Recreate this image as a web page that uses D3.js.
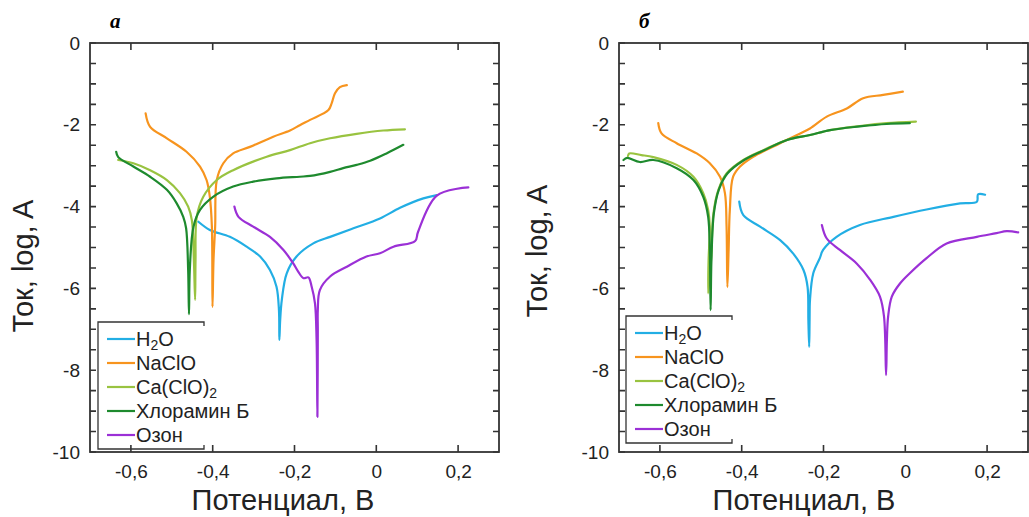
<!DOCTYPE html>
<html lang="ru">
<head>
<meta charset="UTF-8">
<title>Поляризационные кривые</title>
<script src="https://d3js.org/d3.v7.min.js"></script>
<style>
  body { margin: 0; background: #fff; }
  svg { display: block; font-family: "Liberation Sans", Arial, sans-serif; }
  .axis text { font-size: 19px; fill: #222; font-family: "Liberation Sans", Arial, sans-serif; }
  .title { font-size: 29px; fill: #222; }
  .legend text { font-size: 20px; fill: #222; }
  .letter { font-family: "Liberation Serif", "DejaVu Serif", serif; font-weight: bold; font-style: italic; font-size: 21px; }
</style>
</head>
<body>
<svg id="chart" width="1029" height="517"></svg>
<script>
// series names and colours
const seriesNames = ["H2O", "NaClO", "Ca(ClO)2", "Хлорамин Б", "Озон"];
const seriesColors = ["#22aee4", "#f7941e", "#99c340", "#1e8a2e", "#9b30d6"];

// ticks
const xTicks = [-0.6, -0.4, -0.2, 0, 0.2];
const yTicks = [0, -2, -4, -6, -8, -10];
const yMinor = d3.range(-10, 0.001, 0.5);

// panel а : [potential, V ; log current]
const aH2O = [[-0.435,-4.37],[-0.407,-4.57],[-0.358,-4.74],[-0.317,-4.98],[-0.284,-5.22],[-0.260,-5.55],[-0.244,-5.96],[-0.238,-6.53],[-0.237,-7.26],
  [-0.235,-6.77],[-0.231,-6.28],[-0.219,-5.63],[-0.195,-5.22],[-0.154,-4.90],[-0.113,-4.74],[-0.056,-4.53],[0.009,-4.29],[0.058,-4.03],[0.115,-3.80],[0.148,-3.72]];
const aNaClO = [[-0.564,-1.72],[-0.553,-2.05],[-0.512,-2.33],[-0.464,-2.66],[-0.431,-3.02],[-0.415,-3.35],[-0.407,-3.76],[-0.402,-4.49],[-0.4005,-6.45],
  [-0.398,-5.30],[-0.394,-4.49],[-0.390,-3.35],[-0.374,-2.94],[-0.350,-2.70],[-0.309,-2.54],[-0.252,-2.29],[-0.211,-2.14],[-0.187,-2.01],[-0.162,-1.88],
  [-0.117,-1.64],[-0.109,-1.47],[-0.101,-1.23],[-0.089,-1.08],[-0.072,-1.03]];
const aCaClO2 = [[-0.631,-2.86],[-0.594,-2.94],[-0.553,-3.11],[-0.512,-3.35],[-0.480,-3.67],[-0.460,-4.00],[-0.451,-4.33],[-0.446,-5.31],[-0.443,-6.28],
  [-0.442,-5.31],[-0.439,-4.25],[-0.423,-3.76],[-0.390,-3.35],[-0.350,-3.11],[-0.268,-2.78],[-0.211,-2.62],[-0.162,-2.45],[-0.113,-2.33],[-0.048,-2.22],
  [0.017,-2.14],[0.070,-2.11]];
const aChloramine = [[-0.636,-2.66],[-0.631,-2.79],[-0.594,-3.02],[-0.553,-3.27],[-0.512,-3.59],[-0.488,-3.92],[-0.472,-4.25],[-0.465,-4.53],[-0.460,-5.55],[-0.458,-6.63],
  [-0.456,-5.55],[-0.447,-4.49],[-0.431,-4.08],[-0.399,-3.76],[-0.350,-3.51],[-0.301,-3.39],[-0.244,-3.31],[-0.187,-3.27],[-0.162,-3.25],[-0.113,-3.15],
  [-0.081,-3.06],[-0.048,-2.98],[-0.015,-2.88],[0.025,-2.70],[0.066,-2.49]];
const aOzone = [[-0.347,-4.00],[-0.337,-4.25],[-0.301,-4.49],[-0.260,-4.74],[-0.227,-5.06],[-0.203,-5.39],[-0.191,-5.59],[-0.178,-5.75],[-0.166,-5.73],
  [-0.158,-5.96],[-0.150,-6.36],[-0.146,-7.26],[-0.144,-9.14],[-0.143,-7.02],[-0.143,-6.53],[-0.138,-6.04],[-0.113,-5.71],[-0.072,-5.47],[-0.024,-5.22],
  [0.009,-5.14],[0.042,-4.98],[0.095,-4.84],[0.102,-4.62],[0.148,-3.73],[0.225,-3.53]];

// panel б
const bH2O = [[-0.406,-3.88],[-0.396,-4.21],[-0.355,-4.49],[-0.306,-4.82],[-0.274,-5.15],[-0.249,-5.55],[-0.239,-5.96],[-0.237,-6.77],[-0.235,-7.43],
  [-0.234,-6.77],[-0.233,-6.28],[-0.225,-5.63],[-0.209,-5.26],[-0.201,-5.06],[-0.168,-4.74],[-0.111,-4.45],[-0.029,-4.25],[0.052,-4.07],[0.134,-3.92],
  [0.175,-3.88],[0.178,-3.70],[0.195,-3.71]];
const bNaClO = [[-0.604,-1.96],[-0.596,-2.21],[-0.559,-2.45],[-0.510,-2.70],[-0.478,-2.94],[-0.453,-3.27],[-0.441,-3.67],[-0.437,-4.49],[-0.435,-5.97],
  [-0.432,-5.06],[-0.429,-4.08],[-0.421,-3.27],[-0.404,-3.02],[-0.372,-2.78],[-0.306,-2.45],[-0.257,-2.21],[-0.233,-2.09],[-0.192,-1.80],[-0.143,-1.60],
  [-0.103,-1.35],[-0.054,-1.27],[-0.006,-1.19]];
const bCaClO2 = [[-0.678,-2.76],[-0.675,-2.70],[-0.645,-2.74],[-0.616,-2.79],[-0.559,-2.98],[-0.518,-3.27],[-0.494,-3.67],[-0.482,-4.08],[-0.478,-4.49],[-0.481,-5.31],[-0.482,-6.12],
  [-0.475,-5.31],[-0.469,-4.16],[-0.457,-3.59],[-0.437,-3.19],[-0.396,-2.86],[-0.347,-2.62],[-0.290,-2.37],[-0.233,-2.25],[-0.184,-2.13],[-0.111,-2.03],
  [-0.046,-1.96],[0.026,-1.92]];
const bChloramine = [[-0.689,-2.86],[-0.680,-2.81],[-0.649,-2.91],[-0.616,-2.86],[-0.559,-3.06],[-0.518,-3.35],[-0.494,-3.76],[-0.482,-4.25],[-0.478,-5.06],[-0.476,-6.53],
  [-0.474,-5.31],[-0.468,-4.16],[-0.456,-3.59],[-0.435,-3.19],[-0.394,-2.86],[-0.345,-2.62],[-0.289,-2.37],[-0.233,-2.25],[-0.184,-2.13],[-0.111,-2.04],
  [-0.046,-1.98],[0.011,-1.96]];
const bOzone = [[-0.204,-4.45],[-0.192,-4.78],[-0.160,-5.06],[-0.119,-5.39],[-0.086,-5.79],[-0.062,-6.20],[-0.052,-6.69],[-0.047,-8.12],
  [-0.045,-7.26],[-0.042,-6.69],[-0.033,-6.20],[-0.013,-5.88],[0.011,-5.63],[0.052,-5.26],[0.101,-4.90],[0.175,-4.74],[0.223,-4.65],[0.248,-4.60],[0.276,-4.63]];

const panels = [
  { letter: "а", left: 90, legendX: 98, legendY: 322, xTitle: 283, yTitleX: 33, yTitleY: 266,
    data: [aH2O, aNaClO, aCaClO2, aChloramine, aOzone] },
  { letter: "б", left: 619, legendX: 626, legendY: 316, xTitle: 804, yTitleX: 547, yTitleY: 251,
    data: [bH2O, bNaClO, bCaClO2, bChloramine, bOzone] }
];

const svg = d3.select("#chart");
svg.append("rect").attr("width", 1029).attr("height", 517).attr("fill", "#fff");

const plotTop = 43, plotSize = 409;
const axisColor = "#333333";
const fmt = d => d === 0 ? "0" : d.toFixed(1).replace(".", ",");

const frames = svg.append("g").attr("class", "frames");

panels.forEach(p => {
  const x = d3.scaleLinear().domain([-0.7, 0.3]).range([p.left, p.left + plotSize]);
  const y = d3.scaleLinear().domain([-10, 0]).range([plotTop + plotSize, plotTop]);
  const g = svg.append("g");

  // curves
  const line = d3.line().x(d => x(d[0])).y(d => y(d[1])).curve(d3.curveCatmullRom.alpha(0.5));
  p.data.forEach((s, i) => {
    g.append("path").attr("d", line(s))
      .attr("fill", "none").attr("stroke", seriesColors[i]).attr("stroke-width", 2.2)
      .attr("stroke-linejoin", "round").attr("stroke-linecap", "round");
  });

  // tick labels from d3 axes
  g.append("g").attr("class", "axis").attr("transform", `translate(0,${plotTop + plotSize})`)
    .call(d3.axisBottom(x).tickValues(xTicks).tickFormat(fmt).tickSize(0).tickPadding(13))
    .call(s => s.select(".domain").remove());
  g.append("g").attr("class", "axis").attr("transform", `translate(${p.left},0)`)
    .call(d3.axisLeft(y).tickValues(yTicks).tickFormat(d => String(d)).tickSize(0).tickPadding(10))
    .call(s => s.select(".domain").remove());

  // inward tick marks, drawn from the same scales
  const tk = frames.append("g");
  tk.selectAll(".xt").data(xTicks).enter().append("path")
    .attr("d", d => `M${x(d)},${plotTop}v7M${x(d)},${plotTop + plotSize}v-7`)
    .attr("stroke", axisColor).attr("stroke-width", 1.6).attr("fill", "none");
  tk.selectAll(".yt").data(yMinor).enter().append("path")
    .attr("d", d => `M${p.left},${y(d)}h6M${p.left + plotSize},${y(d)}h-6`)
    .attr("stroke", axisColor).attr("stroke-width", 1.6).attr("fill", "none");
  tk.append("rect").attr("x", p.left).attr("y", plotTop).attr("width", plotSize).attr("height", plotSize)
    .attr("fill", "none").attr("stroke", axisColor).attr("stroke-width", 1.8);

  // titles
  g.append("text").attr("class", "title").attr("x", p.xTitle).attr("y", 510)
    .attr("text-anchor", "middle").text("Потенциал, В");
  g.append("text").attr("class", "title")
    .attr("transform", `translate(${p.yTitleX},${p.yTitleY}) rotate(-90)`)
    .attr("text-anchor", "middle").text("Ток, log, A");
  g.append("text").attr("class", "letter").attr("x", p.left + 20).attr("y", 28).text(p.letter);

  // legend
  const lg = g.append("g").attr("class", "legend");
  const lx = p.legendX, ly = p.legendY, lw = 106, lh = 127;
  lg.append("path").attr("fill", "none").attr("stroke", axisColor).attr("stroke-width", 1.3)
    .attr("d", `M${lx + lw},${ly + 4}V${ly}H${lx}V${ly + lh}H${lx + lw}V${ly + lh - 4}`);
  seriesNames.forEach((name, i) => {
    const ry = ly + 17 + i * 24;
    lg.append("line").attr("x1", lx + 9).attr("x2", lx + 37).attr("y1", ry).attr("y2", ry)
      .attr("stroke", seriesColors[i]).attr("stroke-width", 2.2);
    const t = lg.append("text").attr("x", lx + 38).attr("y", ry + 7);
    if (name === "H2O") {
      t.append("tspan").text("H");
      t.append("tspan").attr("font-size", "14px").attr("dy", 4).text("2");
      t.append("tspan").attr("dy", -4).text("O");
    } else if (name === "Ca(ClO)2") {
      t.append("tspan").text("Ca(ClO)");
      t.append("tspan").attr("font-size", "14px").attr("dy", 4).text("2");
    } else {
      t.text(name);
    }
  });
});
frames.raise();
</script>
</body>
</html>
